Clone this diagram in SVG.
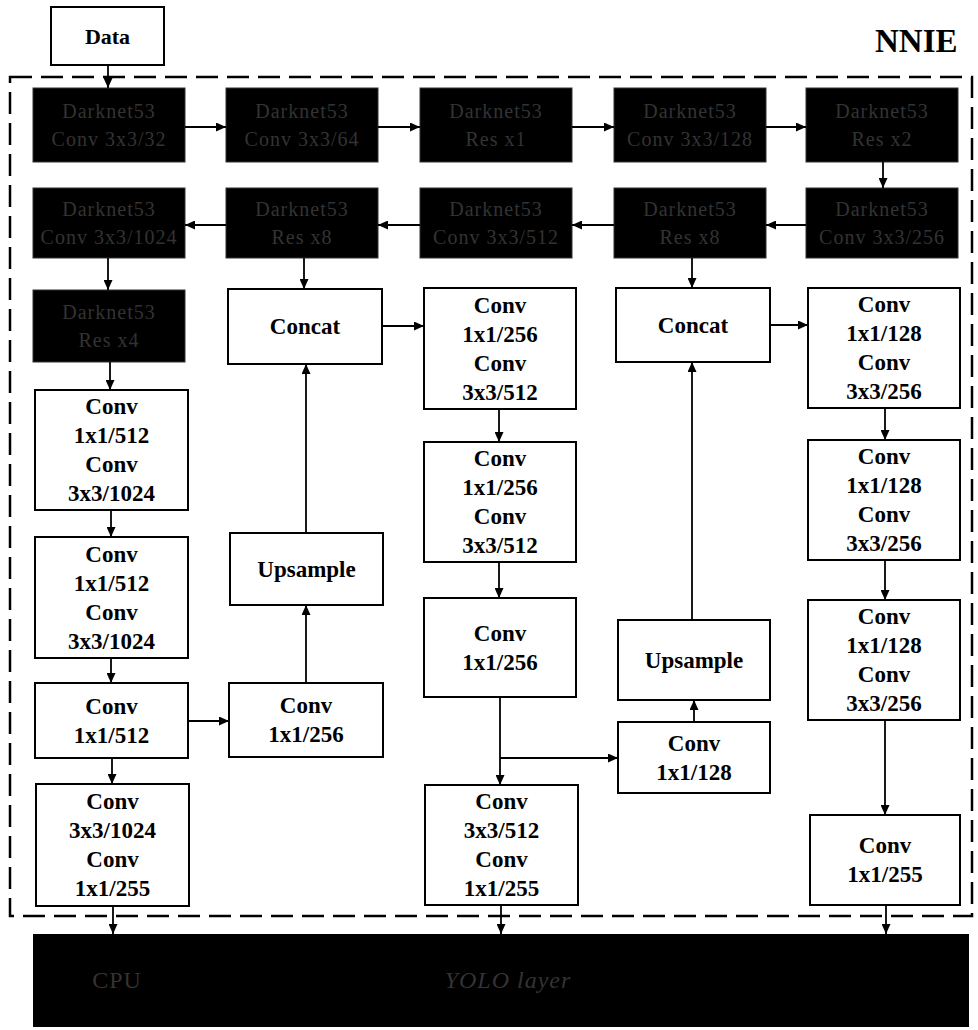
<svg xmlns="http://www.w3.org/2000/svg" width="978" height="1030" viewBox="0 0 978 1030">
<style>
.box{fill:#fff;stroke:#000;stroke-width:2}
.dark{fill:#000;stroke:#333;stroke-width:1}
.t{font-family:"Liberation Serif","Times New Roman",serif;font-weight:bold;font-size:23px;text-anchor:middle;fill:#000}
.dt{font-family:"Liberation Serif","Times New Roman",serif;font-size:20px;text-anchor:middle;fill:#333;letter-spacing:1px}
.c{stroke:#000;stroke-width:1.8;fill:none;marker-end:url(#ah)}
</style>
<defs>
<marker id="ah" markerWidth="10" markerHeight="9" refX="10" refY="4.5" orient="auto" markerUnits="userSpaceOnUse"><path d="M0,0 L10,4.5 L0,9 z" fill="#000"/></marker>
</defs>
<rect width="978" height="1030" fill="#fff"/>
<rect x="10" y="77" width="962" height="839" fill="none" stroke="#000" stroke-width="2.5" stroke-dasharray="22 9"/>
<text x="875" y="52" style="font-family:'Liberation Serif','Times New Roman',serif;font-weight:bold;font-size:33px;fill:#000">NNIE</text>

<g id="data"><rect class="box" x="51" y="7" width="113" height="58"/><text class="t" x="107.5" y="44" style="font-size:22px">Data</text></g>

<g id="d1"><rect class="dark" x="33" y="88" width="152" height="74"/><text class="dt" x="109" y="118">Darknet53</text><text class="dt" x="109" y="146">Conv 3x3/32</text></g>
<g id="d2"><rect class="dark" x="226" y="88" width="152" height="74"/><text class="dt" x="302" y="118">Darknet53</text><text class="dt" x="302" y="146">Conv 3x3/64</text></g>
<g id="d3"><rect class="dark" x="420" y="88" width="152" height="74"/><text class="dt" x="496" y="118">Darknet53</text><text class="dt" x="496" y="146">Res x1</text></g>
<g id="d4"><rect class="dark" x="614" y="88" width="152" height="74"/><text class="dt" x="690" y="118">Darknet53</text><text class="dt" x="690" y="146">Conv 3x3/128</text></g>
<g id="d5"><rect class="dark" x="806" y="88" width="152" height="74"/><text class="dt" x="882" y="118">Darknet53</text><text class="dt" x="882" y="146">Res x2</text></g>

<g id="d6"><rect class="dark" x="806" y="188" width="152" height="70"/><text class="dt" x="882" y="216">Darknet53</text><text class="dt" x="882" y="244">Conv 3x3/256</text></g>
<g id="d7"><rect class="dark" x="614" y="188" width="152" height="70"/><text class="dt" x="690" y="216">Darknet53</text><text class="dt" x="690" y="244">Res x8</text></g>
<g id="d8"><rect class="dark" x="420" y="188" width="152" height="70"/><text class="dt" x="496" y="216">Darknet53</text><text class="dt" x="496" y="244">Conv 3x3/512</text></g>
<g id="d9"><rect class="dark" x="226" y="188" width="152" height="70"/><text class="dt" x="302" y="216">Darknet53</text><text class="dt" x="302" y="244">Res x8</text></g>
<g id="d10"><rect class="dark" x="33" y="188" width="152" height="70"/><text class="dt" x="109" y="216">Darknet53</text><text class="dt" x="109" y="244">Conv 3x3/1024</text></g>
<g id="d11"><rect class="dark" x="33" y="290" width="152" height="72"/><text class="dt" x="109" y="319">Darknet53</text><text class="dt" x="109" y="347">Res x4</text></g>

<g id="c1a"><rect class="box" x="35" y="390" width="153" height="120"/><text class="t" x="111.5" y="414">Conv</text><text class="t" x="111.5" y="443">1x1/512</text><text class="t" x="111.5" y="472">Conv</text><text class="t" x="111.5" y="501">3x3/1024</text></g>
<g id="c1b"><rect class="box" x="35" y="537" width="153" height="121"/><text class="t" x="111.5" y="561.5">Conv</text><text class="t" x="111.5" y="590.5">1x1/512</text><text class="t" x="111.5" y="619.5">Conv</text><text class="t" x="111.5" y="648.5">3x3/1024</text></g>
<g id="c1c"><rect class="box" x="35" y="683" width="153" height="75"/><text class="t" x="111.5" y="713.5">Conv</text><text class="t" x="111.5" y="742.5">1x1/512</text></g>
<g id="c1d"><rect class="box" x="36" y="784" width="153" height="122"/><text class="t" x="112.5" y="809">Conv</text><text class="t" x="112.5" y="838">3x3/1024</text><text class="t" x="112.5" y="867">Conv</text><text class="t" x="112.5" y="896">1x1/255</text></g>

<g id="concat1"><rect class="box" x="228" y="289" width="154" height="75"/><text class="t" x="305" y="334">Concat</text></g>
<g id="up1"><rect class="box" x="230" y="533" width="153" height="72"/><text class="t" x="306.5" y="576.5">Upsample</text></g>
<g id="c2"><rect class="box" x="229" y="683" width="154" height="74"/><text class="t" x="306" y="713">Conv</text><text class="t" x="306" y="742">1x1/256</text></g>

<g id="c3a"><rect class="box" x="424" y="288" width="152" height="121"/><text class="t" x="500" y="312.5">Conv</text><text class="t" x="500" y="341.5">1x1/256</text><text class="t" x="500" y="370.5">Conv</text><text class="t" x="500" y="399.5">3x3/512</text></g>
<g id="c3b"><rect class="box" x="424" y="442" width="152" height="120"/><text class="t" x="500" y="466">Conv</text><text class="t" x="500" y="495">1x1/256</text><text class="t" x="500" y="524">Conv</text><text class="t" x="500" y="553">3x3/512</text></g>
<g id="c3c"><rect class="box" x="424" y="598" width="152" height="99"/><text class="t" x="500" y="640.5">Conv</text><text class="t" x="500" y="669.5">1x1/256</text></g>
<g id="c3d"><rect class="box" x="425" y="785" width="153" height="120"/><text class="t" x="501.5" y="809">Conv</text><text class="t" x="501.5" y="838">3x3/512</text><text class="t" x="501.5" y="867">Conv</text><text class="t" x="501.5" y="896">1x1/255</text></g>

<g id="concat2"><rect class="box" x="616" y="288" width="154" height="74"/><text class="t" x="693" y="332.5">Concat</text></g>
<g id="up2"><rect class="box" x="618" y="620" width="152" height="80"/><text class="t" x="694" y="667.5">Upsample</text></g>
<g id="c4"><rect class="box" x="618" y="722" width="152" height="71"/><text class="t" x="694" y="750.5">Conv</text><text class="t" x="694" y="779.5">1x1/128</text></g>

<g id="c5a"><rect class="box" x="808" y="288" width="152" height="120"/><text class="t" x="884" y="312">Conv</text><text class="t" x="884" y="341">1x1/128</text><text class="t" x="884" y="370">Conv</text><text class="t" x="884" y="399">3x3/256</text></g>
<g id="c5b"><rect class="box" x="808" y="440" width="152" height="120"/><text class="t" x="884" y="464">Conv</text><text class="t" x="884" y="493">1x1/128</text><text class="t" x="884" y="522">Conv</text><text class="t" x="884" y="551">3x3/256</text></g>
<g id="c5c"><rect class="box" x="808" y="600" width="152" height="120"/><text class="t" x="884" y="624">Conv</text><text class="t" x="884" y="653">1x1/128</text><text class="t" x="884" y="682">Conv</text><text class="t" x="884" y="711">3x3/256</text></g>
<g id="c5d"><rect class="box" x="810" y="815" width="150" height="90"/><text class="t" x="885" y="853">Conv</text><text class="t" x="885" y="882">1x1/255</text></g>

<g id="cpu"><rect x="33" y="934" width="936" height="93" fill="#000"/><text class="dt" x="117" y="988" style="font-size:24px">CPU</text><text class="dt" x="508" y="988" style="font-size:24px;font-style:italic">YOLO layer</text></g>

<g id="connectors">
<line class="c" x1="108" y1="65" x2="108" y2="88"/>
<line class="c" x1="185" y1="127" x2="226" y2="127"/>
<line class="c" x1="378" y1="127" x2="420" y2="127"/>
<line class="c" x1="572" y1="127" x2="614" y2="127"/>
<line class="c" x1="766" y1="127" x2="806" y2="127"/>
<line class="c" x1="883" y1="162" x2="883" y2="188"/>
<line class="c" x1="806" y1="225" x2="766" y2="225"/>
<line class="c" x1="614" y1="225" x2="572" y2="225"/>
<line class="c" x1="420" y1="225" x2="378" y2="225"/>
<line class="c" x1="226" y1="225" x2="185" y2="225"/>
<line class="c" x1="108" y1="258" x2="108" y2="290"/>
<line class="c" x1="110" y1="362" x2="110" y2="390"/>
<line class="c" x1="111" y1="510" x2="111" y2="537"/>
<line class="c" x1="111" y1="658" x2="111" y2="683"/>
<line class="c" x1="112" y1="758" x2="112" y2="784"/>
<line class="c" x1="188" y1="721" x2="229" y2="721"/>
<line class="c" x1="306" y1="683" x2="306" y2="605"/>
<line class="c" x1="306" y1="533" x2="306" y2="364"/>
<line class="c" x1="304" y1="258" x2="304" y2="289"/>
<line class="c" x1="382" y1="326" x2="424" y2="326"/>
<line class="c" x1="499" y1="409" x2="499" y2="442"/>
<line class="c" x1="499" y1="562" x2="499" y2="598"/>
<line class="c" x1="500" y1="697" x2="500" y2="785"/>
<line class="c" x1="500" y1="758" x2="618" y2="758"/>
<line class="c" x1="694" y1="722" x2="694" y2="700"/>
<line class="c" x1="692" y1="620" x2="692" y2="362"/>
<line class="c" x1="692" y1="258" x2="692" y2="288"/>
<line class="c" x1="770" y1="325" x2="808" y2="325"/>
<line class="c" x1="885" y1="408" x2="885" y2="440"/>
<line class="c" x1="885" y1="560" x2="885" y2="600"/>
<line class="c" x1="885" y1="720" x2="885" y2="815"/>
<line class="c" x1="113" y1="906" x2="113" y2="934"/>
<line class="c" x1="501" y1="905" x2="501" y2="934"/>
<line class="c" x1="886" y1="905" x2="886" y2="934"/>
</g>
</svg>
